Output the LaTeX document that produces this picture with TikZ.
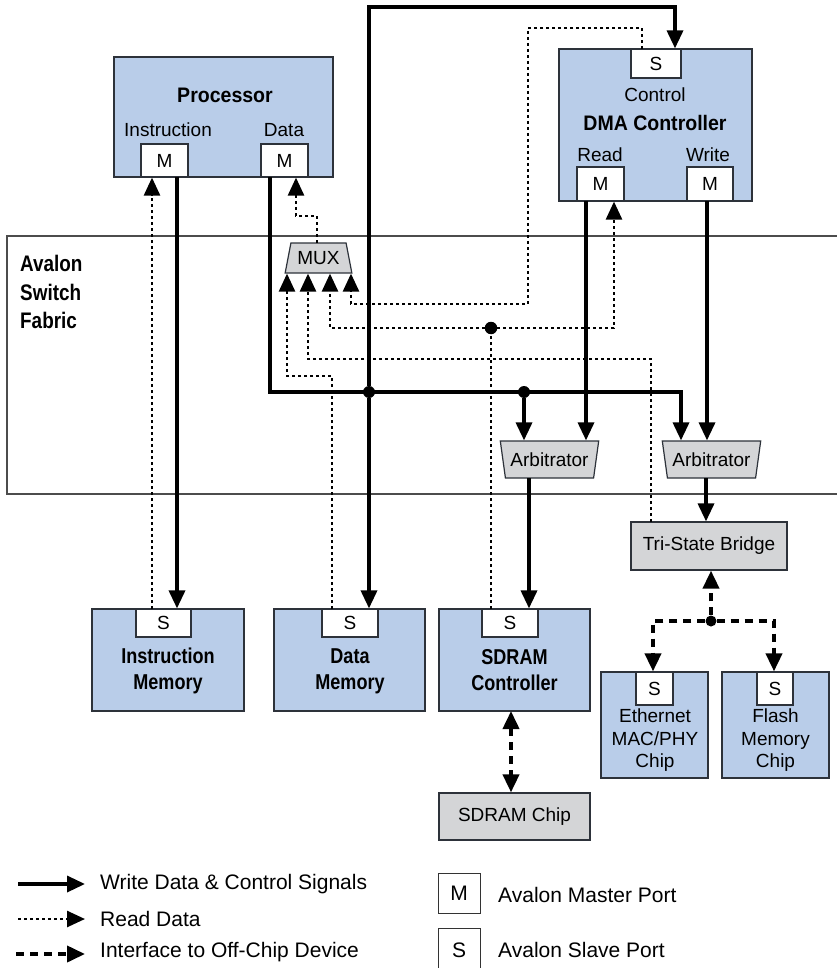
\documentclass[tikz,border=0pt]{standalone}
\usepackage{fontspec}
\setmainfont{Liberation Sans}
\newfontfamily\cbfA{Liberation Sans}[FakeStretch=0.93]
\newfontfamily\cbfB{Liberation Sans}[FakeStretch=0.84]
\usetikzlibrary{arrows.meta,shapes.geometric}
\definecolor{blueF}{RGB}{185,205,233}
\definecolor{grayF}{RGB}{212,213,215}
\definecolor{edge}{RGB}{45,50,58}
\tikzset{
 blk/.style={draw=edge,line width=1.2pt,fill=blueF,inner sep=0pt},
 gblk/.style={draw=edge,line width=1.2pt,fill=grayF,inner sep=0pt,font=\fontsize{19}{22}\selectfont},
 port/.style={draw=edge,line width=1.2pt,fill=white,inner sep=0pt,font=\fontsize{19}{22}\selectfont},
 lbl/.style={inner sep=0pt,font=\fontsize{19}{22.5}\selectfont,align=center},
 tlbl/.style={inner sep=0pt,font=\fontsize{21}{26}\selectfont\cbfA\bfseries,align=center},
 blbl/.style={inner sep=0pt,font=\fontsize{21.5}{26}\selectfont\cbfB\bfseries,align=center},
 leg/.style={inner sep=0pt,anchor=west,font=\fontsize{21}{24}\selectfont},
 trap/.style={trapezium,trapezium stretches=true,draw=edge,line width=1.2pt,fill=grayF,inner sep=0pt,font=\fontsize{19}{22}\selectfont},
 tip/.style={-{Triangle[length=18pt,width=16pt]}},
 wr/.style={line width=3.4pt,tip},
 rd/.style={line width=2.6pt,dash pattern=on 3pt off 3pt,tip},
 od/.style={line width=3.8pt,dash pattern=on 8pt off 6pt,tip},
 jdot/.style={circle,fill=black,inner sep=0pt,minimum size=12pt},
}
\begin{document}
\begin{tikzpicture}[x=1pt,y=-1pt]
\useasboundingbox (0,0) rectangle (836,968);

% Avalon switch fabric frame
\draw[black!70,line width=1.3pt] (845,236) -- (7,236) -- (7,494) -- (845,494);
\node[inner sep=0pt,align=left,anchor=west,font=\fontsize{22.5}{28.5}\selectfont\cbfB\bfseries] (fab) at (20,292) {Avalon\\Switch\\Fabric};

% Processor
\node[blk,minimum width=219,minimum height=120] (proc) at (223.5,117) {};
\node[tlbl] (procT) at (225,95) {Processor};
\node[lbl] (procI) at (168,130) {Instruction};
\node[lbl] (procD) at (284,130) {Data};
\node[port,minimum width=47,minimum height=33] (mI) at (164.5,160.5) {M};
\node[port,minimum width=47,minimum height=33] (mD) at (284.5,160.5) {M};

% DMA controller
\node[blk,minimum width=193,minimum height=152] (dma) at (655.5,125) {};
\node[port,minimum width=50,minimum height=29] (sC) at (656,63.5) {S};
\node[lbl] (dmaC) at (655,95) {Control};
\node[tlbl] (dmaT) at (655,123) {DMA Controller};
\node[lbl] (dmaR) at (600,155) {Read};
\node[lbl] (dmaW) at (708,155) {Write};
\node[port,minimum width=47,minimum height=34] (mR) at (600.5,184) {M};
\node[port,minimum width=46,minimum height=34] (mW) at (710,184) {M};

% MUX and arbitrators
\node[trap,trapezium angle=71.6,minimum width=67,minimum height=30] (mux) at (318.5,258) {MUX};
\node[trap,trapezium angle=72,shape border rotate=180,minimum width=99,minimum height=37] (arbL) at (549.5,459.5) {Arbitrator};
\node[trap,trapezium angle=72,shape border rotate=180,minimum width=99,minimum height=37] (arbR) at (711.5,459.5) {Arbitrator};

% Tri-state bridge
\node[gblk,minimum width=156,minimum height=48] (tsb) at (709,546) {Tri-State Bridge};

% Memories / slaves
\node[blk,minimum width=152,minimum height=102] (imem) at (168,660) {};
\node[port,minimum width=55,minimum height=28] (sI) at (163.5,623) {S};
\node[blbl] (imemT) at (168,671) {Instruction\\Memory};

\node[blk,minimum width=151,minimum height=102] (dmem) at (349.5,660) {};
\node[port,minimum width=56,minimum height=28] (sD) at (350,623) {S};
\node[blbl] (dmemT) at (350,671) {Data\\Memory};

\node[blk,minimum width=151,minimum height=102] (sdc) at (514.5,660) {};
\node[port,minimum width=56,minimum height=28] (sS) at (510,623) {S};
\node[blbl] (sdcT) at (514.5,670) {SDRAM\\Controller};

\node[blk,minimum width=107,minimum height=106] (eth) at (654.5,725) {};
\node[port,minimum width=37,minimum height=33] (sE) at (654.5,688.5) {S};
\node[lbl] (ethT) at (655,740.5) {Ethernet\\MAC/PHY\\Chip};

\node[blk,minimum width=107,minimum height=106] (fl) at (775.5,725) {};
\node[port,minimum width=36,minimum height=33] (sF) at (775,688.5) {S};
\node[lbl] (flT) at (775.5,740.5) {Flash\\Memory\\Chip};

\node[gblk,minimum width=151,minimum height=47] (sdchip) at (514.5,816.5) {SDRAM Chip};

% junctions
\node[jdot] (j1) at (369,392) {};
\node[jdot] (j2) at (524,392) {};
\node[jdot,minimum size=12.5pt] (j3) at (491,328) {};
\node[jdot,minimum size=11pt] (j4) at (711,621) {};

% helper coordinates
\coordinate (pIw) at (177,177);
\coordinate (pIr) at (152,609);
\coordinate (pDw) at (270,177);
\coordinate (pDc) at (270,392);
\coordinate (aR1) at (681,392);
\coordinate (jt) at (369,7);
\coordinate (tC) at (675,7);
\coordinate (muxO) at (317,243);
\coordinate (mo1) at (317,216);
\coordinate (mo2) at (296,216);
\coordinate (dmR) at (332,609);
\coordinate (dm1) at (332,376);
\coordinate (mx1) at (287,376);
\coordinate (tsR) at (651,522);
\coordinate (ts1) at (651,359);
\coordinate (mx2) at (308,359);
\coordinate (sdR) at (491,609);
\coordinate (r6) at (614,328);
\coordinate (mx3) at (330,328);
\coordinate (scR) at (642,49);
\coordinate (sc1) at (642,28);
\coordinate (sc2) at (528,28);
\coordinate (sc3) at (528,304);
\coordinate (mx4) at (351,304);
\coordinate (mRw) at (586,201);
\coordinate (mWw) at (707,201);
\coordinate (aLo) at (529,478);
\coordinate (aRo) at (706,478);
\coordinate (e1) at (653,621);
\coordinate (f1) at (774,621);
\coordinate (sd1) at (511,711);

% write / control (solid)
\draw[wr] (pIw) -- (pIw |- sI.north);
\draw[wr] (pDw) -- (pDc) -- (aR1) -- (aR1 |- arbR.north);
\draw[wr] (j1) -- (jt) -- (tC) -- (tC |- sC.north);
\draw[wr] (j1) -- (j1 |- sD.north);
\draw[wr] (j2) -- (j2 |- arbL.north);
\draw[wr] (mRw) -- (mRw |- arbL.north);
\draw[wr] (mWw) -- (mWw |- arbR.north);
\draw[wr] (aLo) -- (aLo |- sS.north);
\draw[wr] (aRo) -- (aRo |- tsb.north);

% read data (dotted)
\draw[rd] (pIr) -- (pIr |- mI.south);
\draw[rd] (muxO) -- (mo1) -- (mo2) -- (mo2 |- mD.south);
\draw[rd] (dmR) -- (dm1) -- (mx1) -- (mx1 |- mux.south);
\draw[rd] (tsR) -- (ts1) -- (mx2) -- (mx2 |- mux.south);
\draw[line width=2.6pt,dash pattern=on 3pt off 3pt] (sdR) -- (j3);
\draw[rd] (j3) -- (r6) -- (r6 |- mR.south);
\draw[rd] (j3) -- (mx3) -- (mx3 |- mux.south);
\draw[rd] (scR) -- (sc1) -- (sc2) -- (sc3) -- (mx4) -- (mx4 |- mux.south);

% off-chip (dashed)
\draw[od] (j4) -- (j4 |- tsb.south);
\draw[od] (j4) -- (e1) -- (e1 |- eth.north);
\draw[od] (j4) -- (f1) -- (f1 |- fl.north);
\draw[od,{Triangle[length=18pt,width=16pt]}-{Triangle[length=18pt,width=16pt]}] (sd1) -- (sd1 |- sdchip.north);

% legend
\coordinate (l1a) at (18,884); \coordinate (l1b) at (85,884);
\coordinate (l2a) at (18,919); \coordinate (l2b) at (85,919);
\coordinate (l3a) at (16,954); \coordinate (l3b) at (85,954);
\draw[wr] (l1a) -- (l1b);
\draw[rd] (l2a) -- (l2b);
\draw[od] (l3a) -- (l3b);
\node[leg] (t1) at (100,884) {Write Data \& Control Signals};
\node[leg] (t2) at (100,919) {Read Data};
\node[leg] (t3) at (100,952) {Interface to Off-Chip Device};
\node[draw=black!80,line width=1pt,minimum width=42,minimum height=40,inner sep=0pt,font=\fontsize{21}{24}\selectfont] (lm) at (459,893) {M};
\draw[black!80,line width=1pt] (438,975) -- (438,928) -- (480,928) -- (480,975);
\node[inner sep=0pt,font=\fontsize{21}{24}\selectfont] (ls) at (459,950) {S};
\node[leg] (t4) at (498,895) {Avalon Master Port};
\node[leg] (t5) at (498,950) {Avalon Slave Port};
\end{tikzpicture}
\end{document}
